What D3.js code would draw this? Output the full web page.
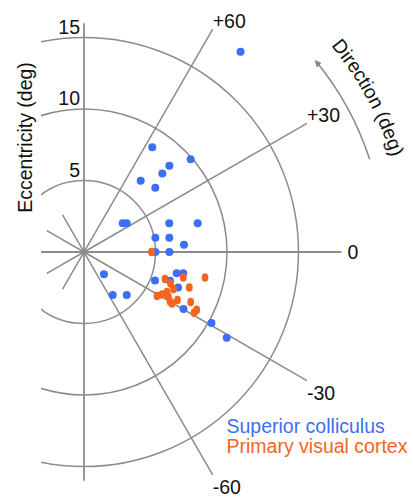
<!DOCTYPE html>
<html><head><meta charset="utf-8">
<script src="https://cdn.jsdelivr.net/npm/d3@7"></script>
<style>
html,body{margin:0;padding:0;background:#fff;}
svg{display:block;font-family:"Liberation Sans",Arial,sans-serif;}
</style></head>
<body>
<script>
// ---- data (eccentricity in deg, direction in deg) ----
const eccTicks = [5, 10, 15];
const dirTicks = [60, 30, 0, -30, -60];
const dirTickLabels = ["+60", "+30", "0", "-30", "-60"];
const shortSpokes = [120, 150, 180, -150, -120];

const scEcc = [17.78, 8.74, 9.88, 8.49, 7.76, 6.37, 6.71, 3.37, 3.60, 6.29, 8.20, 5.09, 6.05, 7.01, 4.99, 5.97, 2.09, 3.62, 4.24, 5.35, 6.65, 7.10, 6.34, 7.03, 8.02, 10.20, 11.64];
const scDir = [52.0, 56.9, 41.0, 45.3, 45.1, 51.5, 42.0, 36.6, 33.9, 18.6, 14.2, 11.3, 9.5, 4.2, 0, 0, -48.1, -56.3, -45.2, -21.9, -12.9, -12.1, -18.5, -20.7, -29.8, -29.1, -31.0];

const v1Ecc = [4.72, 5.97, 6.44, 6.77, 7.17, 8.65, 7.77, 6.44, 5.96, 6.21, 6.94, 7.13, 7.35, 8.24, 8.86, 8.79, 6.67];
const v1Dir = [0, -18.4, -20.0, -22.5, -14.4, -11.9, -18.6, -25.7, -31.1, -28.6, -29.9, -30.3, -27.2, -25.1, -27.2, -28.9, -27.9];

const seriesNames = ["Superior colliculus", "Primary visual cortex"];
const seriesColors = ["#3d6ef5", "#f5651e"];
const dirTitleWords = ["Direction", "(deg)"];

// ---- layout ----
const W = 413, H = 498;
const cx = 84, cy = 252;
const r = d3.scaleLinear().domain([0, 15]).range([0, 214.5]);
const rad = d => d * Math.PI / 180;
const px = (e, a) => cx + r(e) * Math.cos(rad(a));
const py = (e, a) => cy - r(e) * Math.sin(rad(a));
const grid = "#8c8c8c";
const fs = "19.5px";

const svg = d3.select("body").append("svg").attr("width", W).attr("height", H);
const defs = svg.append("defs");
defs.append("clipPath").attr("id", "clipL").append("rect")
  .attr("x", px(3, 180)).attr("y", 0).attr("width", W).attr("height", H);
defs.append("marker").attr("id", "arr").attr("viewBox", "0 0 10 10")
  .attr("refX", 8).attr("refY", 5).attr("markerWidth", 7).attr("markerHeight", 7)
  .attr("markerUnits", "userSpaceOnUse").attr("orient", "auto")
  .append("path").attr("d", "M0,0 L10,5 L0,10 Z").attr("fill", "#888");

// circles
svg.append("g").attr("clip-path", "url(#clipL)").selectAll("circle").data(eccTicks).join("circle")
  .attr("cx", cx).attr("cy", cy).attr("r", d => r(d))
  .attr("fill", "none").attr("stroke", grid).attr("stroke-width", 1.5);

// long radial lines
svg.append("g").selectAll("line").data(dirTicks.filter(d => d !== 0)).join("line")
  .attr("x1", cx).attr("y1", cy).attr("x2", d => px(18, d)).attr("y2", d => py(18, d))
  .attr("stroke", grid).attr("stroke-width", 1.5);
// short spokes
svg.append("g").selectAll("line").data(shortSpokes.filter(d => d !== 180)).join("line")
  .attr("x1", cx).attr("y1", cy).attr("x2", d => px(3, d)).attr("y2", d => py(3, d))
  .attr("stroke", grid).attr("stroke-width", 1.5);
// horizontal axis
svg.append("line").attr("x1", px(3, 180)).attr("y1", cy).attr("x2", px(18, 0)).attr("y2", cy)
  .attr("stroke", grid).attr("stroke-width", 1.8);
// vertical axis
svg.append("line").attr("x1", cx).attr("y1", py(16, 90)).attr("x2", cx).attr("y2", py(16, -90))
  .attr("stroke", grid).attr("stroke-width", 1.8);

// eccentricity tick labels
svg.append("g").selectAll("text").data(eccTicks).join("text")
  .attr("x", cx - 4).attr("y", d => py(d, 90) - 4).attr("text-anchor", "end")
  .attr("font-size", fs).attr("fill", "#111").text(d => d);

// direction tick labels
svg.append("g").selectAll("text").data(dirTicks).join("text")
  .attr("x", d => d === 0 ? px(18, 0) + 6 : px(18, d))
  .attr("y", d => d > 0 ? py(18, d) - 1 : d < 0 ? py(18, d) + 19 : cy + 7)
  .attr("font-size", fs).attr("fill", "#111")
  .text((d, i) => dirTickLabels[i]);

// axis title
svg.append("text").attr("transform", `translate(31.5,137.5) rotate(-90)`)
  .attr("text-anchor", "middle").attr("font-size", fs).attr("fill", "#111")
  .text("Eccentricity (deg)");

// direction arrow
const Ra = r(21);
svg.append("path")
  .attr("d", `M${px(21, 18)},${py(21, 18)} A${Ra},${Ra} 0 0 0 ${px(21, 39.5)},${py(21, 39.5)}`)
  .attr("fill", "none").attr("stroke", "#888").attr("stroke-width", 1.5)
  .attr("marker-end", "url(#arr)");

// direction title on arc (two words on the same arc)
const Rt = r(22.5);
const arcStart = 51, arcCenter = 28.5;
defs.append("path").attr("id", "dirPath")
  .attr("d", `M${px(22.5, arcStart)},${py(22.5, arcStart)} A${Rt},${Rt} 0 0 1 ${px(22.5, 4)},${py(22.5, 4)}`);
const centerOff = rad(arcStart - arcCenter) * Rt;
const t1 = svg.append("text").attr("font-size", fs).attr("fill", "#111");
const tp1 = t1.append("textPath").attr("href", "#dirPath").text(dirTitleWords[0]);
const t2 = svg.append("text").attr("font-size", fs).attr("fill", "#111");
const tp2 = t2.append("textPath").attr("href", "#dirPath").text(dirTitleWords[1]);
const ctx = document.createElement("canvas").getContext("2d");
ctx.font = `${fs} "Liberation Sans", Arial, sans-serif`;
const w1 = ctx.measureText(dirTitleWords[0]).width;
const wsp = ctx.measureText(" ").width;
const w2 = ctx.measureText(dirTitleWords[1]).width;
const start = centerOff - (w1 + wsp + w2) / 2;
tp1.attr("startOffset", start);
tp2.attr("startOffset", start + w1 + wsp);

// data points
const sc = scEcc.map((e, i) => ({e, a: scDir[i]}));
const v1 = v1Ecc.map((e, i) => ({e, a: v1Dir[i]}));
svg.append("g").selectAll("circle").data(sc).join("circle")
  .attr("cx", d => px(d.e, d.a)).attr("cy", d => py(d.e, d.a)).attr("r", 4)
  .attr("fill", seriesColors[0]);
svg.append("g").selectAll("ellipse").data(v1).join("ellipse")
  .attr("cx", d => px(d.e, d.a)).attr("cy", d => py(d.e, d.a)).attr("rx", 3.4).attr("ry", 4.3)
  .attr("fill", seriesColors[1]);

// legend
svg.append("g").selectAll("text").data(seriesNames).join("text")
  .attr("x", 226.5).attr("y", (d, i) => 432.5 + i * 20.7)
  .attr("font-size", fs).attr("fill", (d, i) => seriesColors[i]).text(d => d);
</script>
</body></html>
